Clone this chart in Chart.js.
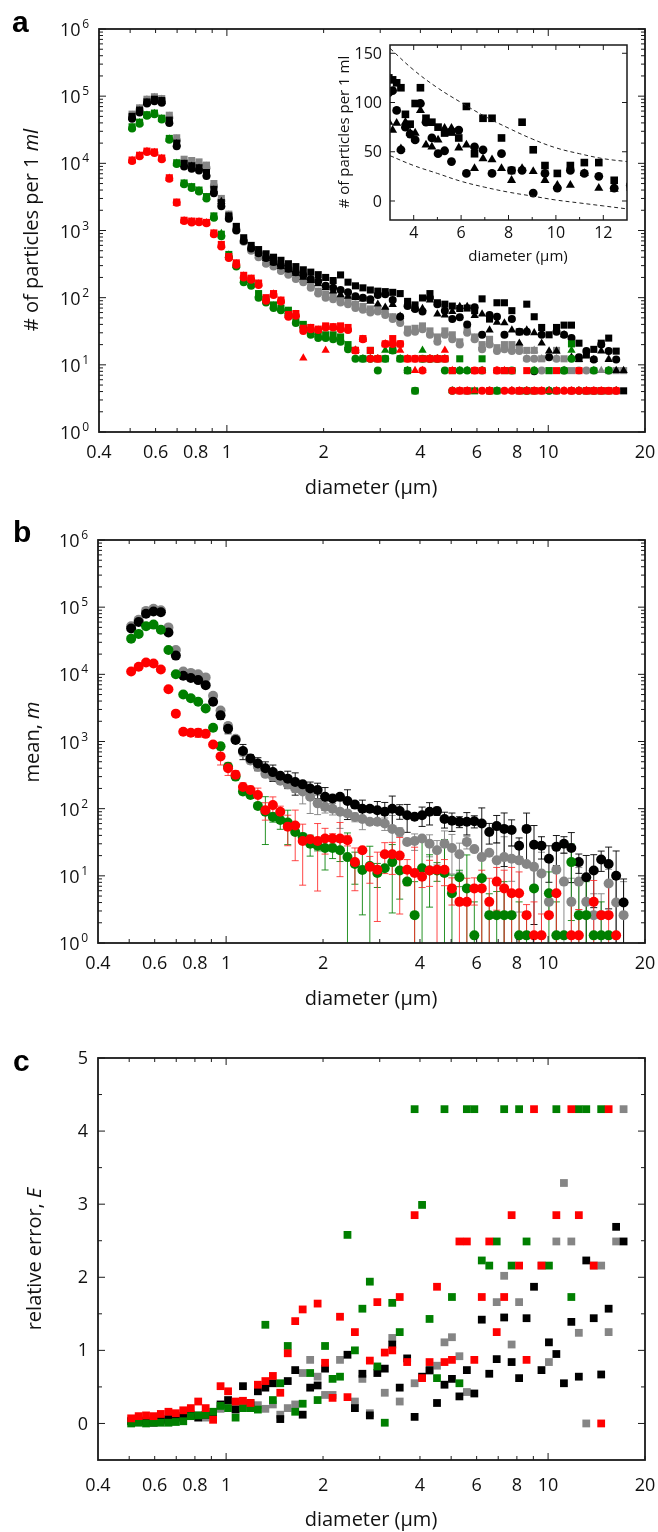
<!DOCTYPE html>
<html lang="en">
<head>
    <meta charset="UTF-8">
    <title>Particle size counts, mean and relative error</title>
    <script src="https://cdn.jsdelivr.net/npm/chart.js"></script>
    <style>
        body { margin: 0; background: #fff; width: 658px; height: 1532px; position: relative; overflow: hidden; }
        canvas { position: absolute; }
    </style>
</head>
<body>

<canvas id="chartA" width="658" height="500" style="left:0;top:0"></canvas>
<canvas id="chartInset" width="320" height="240" style="left:330px;top:30px"></canvas>
<canvas id="chartB" width="658" height="510" style="left:0;top:500px"></canvas>
<canvas id="chartC" width="658" height="527" style="left:0;top:1005px"></canvas>

<script>
    // diameter bins (µm)
    const diam = [0.507,0.535,0.564,0.595,0.627,0.662,0.698,0.736,0.777,0.819,0.864,0.911,0.961,1.014,1.07,1.128,1.19,1.255,1.324,1.397,1.473,1.554,1.639,1.729,1.824,1.924,2.029,2.141,2.258,2.382,2.512,2.65,2.795,2.949,3.11,3.281,3.461,3.65,3.85,4.061,4.284,4.519,4.767,5.028,5.304,5.594,5.901,6.224,6.566,6.925,7.305,7.705,8.128,8.573,9.043,9.539,10.06,10.61,11.2,11.81,12.46,13.14,13.86,14.62,15.42,16.27,17.16];

    // panel a: particles per 1 ml, three repeats per sample (circle, square, triangle)
    const blackCirc = [46000,57000,78000,84000,80000,40000,18000,9000,8300,7800, 6500,3600,2300,1500,1000,700,540,460,390,340, 300,270,240,215,190,175,150,140,130,120, 105,100,95,110, 112,92,52,75,68,62,99,80,64,48, 51,40,72,28,55,52,28,48,31,31, 8,28,13,31,28,25,13,16, 12,20,16,12,null];
    const blackSq = [50000,62000,82000,90000,86000,44000,20000,10000,9200,8600, 7300,4100,2600,1650,1150,780,600,520,450,400, 360,320,290,260,240,220,200,180,218,170, 150,140,130,125, 123,120,115,88,78,99,115,84,80,75, 69,70,64,96,48,84,84,64,31,80, 52,36,28,36,39,39,21,14, 17,21,25,16,4.1];
    const blackTri = [48000,60000,80000,86000,84000,42000,19500,9700,9000,8400, 7000,4000,2700,1600,1050,700,550,460,380,330, 290,260,230,200,180,160,140,125,110,105, 100,95,88,80, 72,79,53,80,69,69,92,57,55,62, 74,74,54,57,33,43,42,33,21,33, 30,21,16,16,28,13,12,null, 12,16,12,8.2,8.2];

    const grayCirc = [50000,63000,86000,92000,88000,48000,22000,10500,10000,9500, 8600,4600,2800,1650,1050,680,500,400,320,290, 250,220,190,170,140,115,100,95,85,80, 70,66,60,62,55,48,42,30,31,34, 28,22,28,24,20,30,24,17,20,16, 17,16,16,12.3,12.3,8.2,4.1,12.3,8.2,4.1, 8.2,8.2,4.1,null,8.2,4.1,null];
    const graySq = [54000,67000,90000,98000,92000,52000,24000,11500,11000,10500, 9400,5000,3000,1750,1150,720,540,440,340,310, 270,240,210,190,160,125,112,105,95,90, 80,74,68,66,64,52,48,34,35,38, 32,26,32,28,22,34,26,20,24,18, 20,20,18,16.4,16.4,12.3,8.2,16.4,12.3,8.2, 12.3,4.1,8.2,4.1,8.2,8.2,8.2];
    const grayTri = [52000,65000,88000,95000,90000,50000,23000,11000,10500,10000, 9000,4800,2900,1700,1100,700,520,420,330,300, 260,230,200,180,150,120,107,100,90,85, 75,70,64,64,60,50,45,32,33,36, 30,24,30,26,21,32,25,19,22,17, 19,18,17,12.3,16.4,12.3,null,12.3,8.2,null, 12.3,4.1,null,8.2,12.3,4.1,null];

    const greenCirc = [33000,39000,51000,54000,45000,22500,9800,4900,4300,3800, 3000,1550,820,400,290,170,150,100,85,70, 65,55,42,36,28,25,25,24,22,17, 12.3,12.3,12.3,8.2,12.3,16.4,12.3,8.2,4.1,12.3, 12.3,12.3,8.2,4.1,8.2,8.2,null,8.2,4.1,4.1, null,8.2,null,4.1,8.2,null,4.1,null,8.2,12.3, 4.1,null,8.2,null,8.2,null,null];
    const greenSq = [35000,41000,53000,56000,47000,23500,10200,5100,4500,4000, 3200,1650,880,440,310,190,170,115,95,78, 70,65,48,40,32,30,28,28,26,20, 16.4,12.3,16.4,12.3,12.3,16.4,12.3,8.2,4.1,12.3, 12.3,12.3,12.3,8.2,12.3,4.1,4.1,12.3,4.1,4.1, 8.2,8.2,4.1,4.1,4.1,null,8.2,4.1,8.2,20.5, null,4.1,4.1,4.1,4.1,null,null];
    const greenTri = [34000,40000,52000,55000,46000,23000,10000,5000,4400,3900, 3100,1600,900,430,300,180,160,110,90,75, 68,62,45,38,30,28,26,26,24,19, 16.4,12.3,12.3,12.3,16.4,16.4,12.3,8.2,null,16.4, 12.3,12.3,12.3,4.1,8.2,8.2,null,8.2,null,4.1, null,4.1,null,4.1,8.2,null,4.1,null,8.2,16.4, 4.1,null,8.2,null,8.2,4.1,null];

    const redCirc = [10800,12800,14800,14200,11500,5900,2600,1380,1320,1330, 1280,880,580,390,310,200,185,155,90,110, 88,52,54,32,34,33,36,36,34,33, 16.4,24,12.3,12.3,20.5,20.5,20.5,12.3,12.3,8.2, 12.3,12.3,12.3,4.1,4.1,4.1,8.2,4.1,4.1,8.2, 4.1,4.1,4.1,4.1,4.1,4.1,null,4.1,4.1,4.1, 4.1,4.1,4.1,4.1,4.1,4.1,null];
    const redSq = [11200,13200,15200,14800,12000,6100,2650,1420,1380,1370, 1320,920,620,410,330,215,195,165,100,115, 92,56,58,35,36,34,38,37,38,36, 16.4,24.6,16.4,12.3,20.5,24.6,20.5,12.3,12.3,12.3, 12.3,12.3,12.3,8.2,4.1,4.1,8.2,8.2,4.1,8.2, 8.2,8.2,4.1,8.2,4.1,4.1,null,8.2,null,4.1, 8.2,4.1,4.1,4.1,4.1,4.1,null];
    const redTri = [11000,13000,15000,14500,11800,6000,2550,1400,1350,1350, 1300,900,600,400,320,210,190,160,95,113, 90,54,56,12.6,35,33,16.4,36,36,34, 16.4,24,12.3,12.3,20.5,20.5,16.4,12.3,8.2,8.2, 12.3,12.3,16.4,8.2,4.1,4.1,4.1,8.2,4.1,8.2, 8.2,4.1,4.1,4.1,4.1,4.1,4.1,4.1,4.1,4.1, 4.1,4.1,4.1,4.1,null,4.1,null];

    // inset dashed envelope
    const envX = [3,4,5,6,7,8,9,10,11,12,13];
    const envUpper = [155,133,115,100,86,74,63,54,48,43,40];
    const envLower = [46,36,28,20,14,9,5,1,-2,-5,-8];

    // panel b: mean m
    const blackMean = [48000,60000,80000,86000,84000,42000,19000,9500,8800,8200, 6900,3900,2450,1550,1050,720,560,470,400,350, 310,280,250,230,200,190,150,142,150,130, 115,100,100,95,90,100,92,80,76,80, 90,92,70,66,64,64,65,60,45,55, 50,48,28,50,29,28,18,27,30,26, 16,9.5,12,17.5,15,10,4];
    const grayMean = [52000,65000,88000,95000,90000,50000,23000,11000,10500,10000, 9000,4800,2900,1700,1100,700,520,420,330,300, 260,230,200,180,150,120,107,100,90,85, 75,70,64,64,60,50,45,32,33,36, 30,24,30,26,21,32,25,19,22,17, 19,18,17,15,13.6,10.8,4.1,12.3,8.2,4.1, 8.2,4.1,2.6,2.6,7.7,4,2.6];
    const greenMean = [34000,40000,52000,55000,46000,23000,10000,5000,4400,3900, 3100,1600,850,420,300,180,160,110,90,75, 68,62,45,38,30,28,26,26,24,19, 15,12.2,14,11,13,16,12,8.2,2.6,13, 12,12,11,5.5,9.5,6.5,1.3,9.2,2.6,2.6, 2.6,2.6,1.3,1.3,6.5,null,5.5,1.3,1.3,16, 2.6,2.6,1.3,1.3,1.3,null,null];
    const redMean = [11000,13000,15000,14500,11800,6000,2600,1400,1350,1350, 1300,900,600,400,320,210,190,160,95,113, 90,54,56,33,35,33,36,36,36,34, 16,24,13.6,12.3,21,21,20,12.3,11,9.7, 12,12.3,12.3,6.5,4.1,4.1,6.5,6.5,4.1,8.2, 6.5,5.5,5.5,2.6,1.3,1.3,2.6,5.5,null,1.3, 1.3,null,4.1,2.6,2.6,1.3,null];

    // panel c: relative error E
    const blackE = [0.03,0.03,0.03,0.01,0.04,0.06,0.08,0.1,0.12,0.08, 0.12,0.12,0.26,0.32,0.19,0.51,0.28,0.44,0.49,0.55, 0.06,0.58,0.73,0.12,0.49,0.52,0.75,null,null,0.94, 0.21,0.68,0.11,0.69,0.75,1.08,0.49,0.89,0.09,0.64, 0.73,0.28,0.53,0.61,0.37,0.73,0.41,1.42,0.68,0.88, 1.45,0.84,0.62,1.44,1.87,0.73,1.11,0.95,0.55,1.39, 0.64,2.23,1.44,0.67,1.57,2.69,2.49];
    const grayE = [0.04,0.05,0.03,0.05,0.06,0.06,0.08,0.1,0.1,0.11, 0.08,0.12,0.2,0.25,0.2,0.26,0.22,0.25,0.2,0.26, 0.12,0.21,0.26,0.69,0.87,0.64,0.39,0.39,0.87,null, 0.3,0.61,0.14,null,0.42,1.17,0.3,null,0.55,null, 0.72,0.79,1.11,1.18,0.92,0.43,null,null,null,1.66, 2.02,1.08,1.66,null,null,2.16,0.84,2.49,3.29,2.49, 1.24,0,2.16,2.16,1.25,2.49,4.3];
    const greenE = [0,0.01,0,0.01,0.01,0.01,0.02,0.03,0.1,0.11, 0.12,0.16,0.24,0.21,0.08,0.21,0.21,0.19,1.35,0.32, 0.55,1.06,0.16,0.27,0.69,0.32,1.06,0.61,0.64,2.58, 1.0,1.57,1.94,0.78,0.01,1.65,1.25,null,4.3,2.99, 1.43,0.62,4.3,1.73,0.55,4.3,4.3,2.23,2.16,2.49, 4.3,2.16,4.3,2.49,null,null,2.16,4.3,null,1.73, 4.3,4.3,null,4.3,null,null,null];
    const redE = [0.07,0.1,0.11,0.1,0.13,0.16,0.14,0.18,0.21,0.3, 0.21,0.05,0.51,0.44,0.3,0.31,0.28,0.53,0.58,0.65, 0.42,0.96,1.4,1.56,null,1.64,0.83,0.35,1.46,0.36, 1.25,null,0.86,1.66,0.97,1.0,1.73,0.84,2.85,0.62, 0.84,1.87,0.84,0.87,2.49,2.49,0.87,1.73,2.49,1.25, 1.73,2.85,2.16,0.87,4.3,2.16,null,2.85,null,4.3, 2.85,null,2.16,0,4.3,null,null];

    // axis ticks
    const xMajorTicks = [1, 10];
    const xMinorTicks = [0.5,0.6,0.7,0.8,0.9,2,3,4,5,6,7,8,9,20];
    const xTickLabels = [0.4,0.6,0.8,1,2,4,6,8,10,20];
    const logExponents = [0,1,2,3,4,5,6];
    const cTickLabels = [0,1,2,3,4,5];
    const insetXTicks = [4,6,8,10,12];
    const insetYTicks = [0,50,100,150];

    const COLORS = { black: '#000000', gray: '#858585', green: '#007f00', red: '#ff0000' };
    const FONT = '"Open Sans", "DejaVu Sans", sans-serif';

    function pts(xs, ys) {
        const out = [];
        ys.forEach((v, i) => { if (v !== null && v !== undefined) out.push({ x: xs[i], y: v }); });
        return out;
    }

    function marker(label, ys, color, style, r) {
        return {
            label: label,
            data: pts(diam, ys),
            pointStyle: style,
            pointRadius: r,
            backgroundColor: color,
            borderColor: color,
            borderWidth: 0,
            showLine: false
        };
    }

    function seg(ctx, x1, y1, x2, y2) {
        ctx.beginPath();
        ctx.moveTo(x1, y1);
        ctx.lineTo(x2, y2);
        ctx.stroke();
    }

    function drawText(ctx, parts, cx, cy, rotated, size) {
        ctx.save();
        ctx.translate(cx, cy);
        if (rotated) ctx.rotate(-Math.PI / 2);
        ctx.textAlign = 'left';
        ctx.textBaseline = 'middle';
        ctx.fillStyle = '#111';
        let total = 0;
        parts.forEach(p => {
            ctx.font = (p.italic ? 'italic ' : '') + size + 'px ' + FONT;
            total += ctx.measureText(p.t).width;
        });
        let x = -total / 2;
        parts.forEach(p => {
            ctx.font = (p.italic ? 'italic ' : '') + size + 'px ' + FONT;
            ctx.fillText(p.t, x, 0);
            x += ctx.measureText(p.t).width;
        });
        ctx.restore();
    }

    // frame, inward ticks, tick labels and titles drawn on the library's scales
    function axesPlugin(cfg) {
        return {
            id: 'axes' + cfg.name,
            beforeDatasetsDraw(chart) {
                if (!cfg.errors) return;
                const { ctx, chartArea: a } = chart;
                const x = chart.scales.x, y = chart.scales.y;
                ctx.save();
                ctx.lineWidth = 1;
                cfg.errors.forEach(set => {
                    ctx.strokeStyle = set.color;
                    set.mean.forEach((m, i) => {
                        const e = set.err[i];
                        if (m === null || e === null || e === undefined) return;
                        const half = m * e / 2;
                        const px = x.getPixelForValue(diam[i]);
                        const top = Math.max(a.top, y.getPixelForValue(m + half));
                        const lo = m - half;
                        const bottom = lo > 0 ? Math.min(a.bottom, y.getPixelForValue(lo)) : a.bottom;
                        seg(ctx, px, top, px, bottom);
                        seg(ctx, px - 3.5, top, px + 3.5, top);
                        if (lo > 1) seg(ctx, px - 3.5, bottom, px + 3.5, bottom);
                    });
                });
                ctx.restore();
            },
            afterDraw(chart) {
                const { ctx, chartArea: a } = chart;
                const x = chart.scales.x, y = chart.scales.y;
                ctx.save();
                ctx.strokeStyle = '#1a1a1a';
                ctx.lineWidth = 1;
                const big = cfg.majorLen, small = cfg.minorLen;
                cfg.xMajor.forEach(v => {
                    const p = x.getPixelForValue(v);
                    seg(ctx, p, a.bottom, p, a.bottom - big);
                    seg(ctx, p, a.top, p, a.top + big);
                });
                cfg.xMinor.forEach(v => {
                    const p = x.getPixelForValue(v);
                    seg(ctx, p, a.bottom, p, a.bottom - small);
                    seg(ctx, p, a.top, p, a.top + small);
                });
                cfg.yMajor.forEach(v => {
                    const p = y.getPixelForValue(v);
                    seg(ctx, a.left, p, a.left + big, p);
                    seg(ctx, a.right, p, a.right - big, p);
                });
                cfg.yMinor.forEach(v => {
                    const p = y.getPixelForValue(v);
                    seg(ctx, a.left, p, a.left + small, p);
                    seg(ctx, a.right, p, a.right - small, p);
                });
                ctx.lineWidth = cfg.frameWidth;
                ctx.strokeRect(a.left, a.top, a.right - a.left, a.bottom - a.top);

                ctx.fillStyle = '#111';
                ctx.textBaseline = 'middle';
                ctx.textAlign = 'center';
                ctx.font = cfg.tickSize + 'px ' + FONT;
                cfg.xLabels.forEach(v => {
                    ctx.fillText(String(v), x.getPixelForValue(v), a.bottom + cfg.xLabelGap);
                });
                if (cfg.yExp) {
                    cfg.yExp.forEach(e => {
                        const p = y.getPixelForValue(Math.pow(10, e));
                        ctx.font = '12px ' + FONT;
                        ctx.textAlign = 'right';
                        ctx.textBaseline = 'alphabetic';
                        const ew = ctx.measureText(String(e)).width;
                        ctx.fillText(String(e), cfg.yLabelRight, p - 1);
                        ctx.font = cfg.tickSize + 'px ' + FONT;
                        ctx.textBaseline = 'middle';
                        ctx.fillText('10', cfg.yLabelRight - ew - 1.5, p + 2);
                    });
                } else {
                    ctx.textAlign = 'right';
                    cfg.yLabels.forEach(v => {
                        ctx.fillText(String(v), cfg.yLabelRight, y.getPixelForValue(v) + 1);
                    });
                }
                drawText(ctx, cfg.xTitle, cfg.xTitlePos[0], cfg.xTitlePos[1], false, cfg.titleSize);
                drawText(ctx, cfg.yTitle, cfg.yTitlePos[0], cfg.yTitlePos[1], true, cfg.titleSize);
                if (cfg.letter) {
                    ctx.font = 'bold 30px "Liberation Sans", Arial, sans-serif';
                    ctx.textAlign = 'left';
                    ctx.textBaseline = 'alphabetic';
                    ctx.fillStyle = '#000';
                    ctx.fillText(cfg.letter, cfg.letterPos[0], cfg.letterPos[1]);
                }
                ctx.restore();
            }
        };
    }

    const logMinor = [];
    logExponents.slice(0, -1).forEach(e => {
        [2,3,4,5,6,7,8,9].forEach(k => logMinor.push(k * Math.pow(10, e)));
    });
    const xTitle = [{ t: 'diameter (µm)' }];

    function baseOptions(padding, yScale, xScale) {
        return {
            responsive: false,
            animation: false,
            devicePixelRatio: 1,
            layout: { padding: padding },
            plugins: { legend: { display: false }, tooltip: { enabled: false } },
            scales: {
                x: xScale || { type: 'logarithmic', min: 0.4, max: 20, display: false },
                y: yScale
            }
        };
    }

    // ---- panel a ----
    new Chart(document.getElementById('chartA'), {
        type: 'scatter',
        data: {
            datasets: [
                marker('red circle', redCirc, COLORS.red, 'circle', 4),
                marker('red square', redSq, COLORS.red, 'rect', 5),
                marker('red triangle', redTri, COLORS.red, 'triangle', 4.8),
                marker('green circle', greenCirc, COLORS.green, 'circle', 4),
                marker('green square', greenSq, COLORS.green, 'rect', 5),
                marker('green triangle', greenTri, COLORS.green, 'triangle', 4.8),
                marker('black circle', blackCirc, COLORS.black, 'circle', 4),
                marker('black square', blackSq, COLORS.black, 'rect', 5),
                marker('black triangle', blackTri, COLORS.black, 'triangle', 4.8),
                marker('gray circle', grayCirc, COLORS.gray, 'circle', 4),
                marker('gray square', graySq, COLORS.gray, 'rect', 5),
                marker('gray triangle', grayTri, COLORS.gray, 'triangle', 4.8)
            ]
        },
        options: baseOptions({ left: 99, right: 13, top: 29, bottom: 68 },
            { type: 'logarithmic', min: 1, max: 1e6, display: false }),
        plugins: [axesPlugin({
            name: 'A', majorLen: 7, minorLen: 4, frameWidth: 1.8, tickSize: 18, titleSize: 20,
            xMajor: xMajorTicks, xMinor: xMinorTicks, xLabels: xTickLabels, xLabelGap: 21,
            yMajor: logExponents.map(e => Math.pow(10, e)), yMinor: logMinor, yExp: logExponents, yLabelRight: 89,
            xTitle: xTitle, xTitlePos: [371, 488],
            yTitle: [{ t: '# of particles per 1 ' }, { t: 'ml', italic: true }], yTitlePos: [32, 230],
            letter: 'a', letterPos: [12, 32]
        })]
    });

    // ---- inset ----
    new Chart(document.getElementById('chartInset'), {
        type: 'scatter',
        data: {
            datasets: [
                {
                    label: 'upper', data: pts(envX, envUpper), showLine: true, borderDash: [4, 3],
                    borderColor: '#222', borderWidth: 1, pointRadius: 0, tension: 0.4
                },
                {
                    label: 'lower', data: pts(envX, envLower), showLine: true, borderDash: [4, 3],
                    borderColor: '#222', borderWidth: 1, pointRadius: 0, tension: 0.4
                },
                marker('black circle', blackCirc, COLORS.black, 'circle', 4.4),
                marker('black square', blackSq, COLORS.black, 'rect', 5.4),
                marker('black triangle', blackTri, COLORS.black, 'triangle', 5.2)
            ]
        },
        options: baseOptions({ left: 60, right: 23, top: 15, bottom: 50 },
            { type: 'linear', min: -19.3, max: 158.4, display: false },
            { type: 'linear', min: 3, max: 13, display: false }),
        plugins: [axesPlugin({
            name: 'Inset', majorLen: 5, minorLen: 3, frameWidth: 1.5, tickSize: 16, titleSize: 15,
            xMajor: insetXTicks, xMinor: [5,7,9,11], xLabels: insetXTicks, xLabelGap: 13,
            yMajor: insetYTicks, yMinor: [], yLabels: insetYTicks, yLabelRight: 52,
            xTitle: xTitle, xTitlePos: [188, 227],
            yTitle: [{ t: '# of particles per 1 ml' }], yTitlePos: [15, 102]
        })]
    });

    // ---- panel b ----
    new Chart(document.getElementById('chartB'), {
        type: 'scatter',
        data: {
            datasets: [
                marker('red mean', redMean, COLORS.red, 'circle', 5),
                marker('green mean', greenMean, COLORS.green, 'circle', 5),
                marker('black mean', blackMean, COLORS.black, 'circle', 5),
                marker('gray mean', grayMean, COLORS.gray, 'circle', 5)
            ]
        },
        options: baseOptions({ left: 98, right: 13, top: 40, bottom: 67 },
            { type: 'logarithmic', min: 1, max: 1e6, display: false }),
        plugins: [axesPlugin({
            name: 'B', majorLen: 7, minorLen: 4, frameWidth: 1.8, tickSize: 18, titleSize: 20,
            xMajor: xMajorTicks, xMinor: xMinorTicks, xLabels: xTickLabels, xLabelGap: 21,
            yMajor: logExponents.map(e => Math.pow(10, e)), yMinor: logMinor, yExp: logExponents, yLabelRight: 88,
            xTitle: xTitle, xTitlePos: [371, 499],
            yTitle: [{ t: 'mean, ' }, { t: 'm', italic: true }], yTitlePos: [33, 242],
            letter: 'b', letterPos: [13, 42],
            errors: [
                { mean: grayMean, err: grayE, color: 'rgba(128,128,128,0.9)' },
                { mean: blackMean, err: blackE, color: 'rgba(0,0,0,0.9)' },
                { mean: greenMean, err: greenE, color: 'rgba(0,127,0,0.85)' },
                { mean: redMean, err: redE, color: 'rgba(255,40,40,0.85)' }
            ]
        })]
    });

    // ---- panel c ----
    new Chart(document.getElementById('chartC'), {
        type: 'scatter',
        data: {
            datasets: [
                marker('red E', redE, COLORS.red, 'rect', 5.5),
                marker('green E', greenE, COLORS.green, 'rect', 5.5),
                marker('black E', blackE, COLORS.black, 'rect', 5.5),
                marker('gray E', grayE, COLORS.gray, 'rect', 5.5)
            ]
        },
        options: baseOptions({ left: 98, right: 13, top: 53, bottom: 72 },
            { type: 'linear', min: -0.5, max: 5, display: false }),
        plugins: [axesPlugin({
            name: 'C', majorLen: 7, minorLen: 4, frameWidth: 1.8, tickSize: 18, titleSize: 20,
            xMajor: xMajorTicks, xMinor: xMinorTicks, xLabels: xTickLabels, xLabelGap: 26,
            yMajor: cTickLabels, yMinor: [0.5,1.5,2.5,3.5,4.5], yLabels: cTickLabels, yLabelRight: 88,
            xTitle: xTitle, xTitlePos: [371, 515],
            yTitle: [{ t: 'relative error, ' }, { t: 'E', italic: true }], yTitlePos: [35, 254],
            letter: 'c', letterPos: [13, 66]
        })]
    });
</script>

</body>
</html>
